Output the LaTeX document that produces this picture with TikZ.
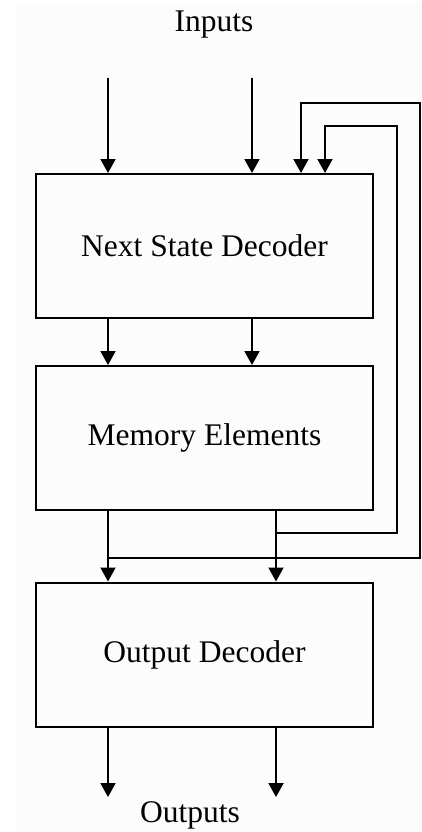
\documentclass[tikz,border=0pt]{standalone}
\usepackage{fontspec}
\setmainfont{Liberation Serif}
\usetikzlibrary{arrows.meta}
\definecolor{bgtint}{RGB}{251,252,251}
\tikzset{
  blockbox/.style={draw=black, line width=2pt, minimum width=337pt, minimum height=144pt, inner sep=0pt, font=\fontsize{31.5}{36}\selectfont},
  wire/.style={draw=black, line width=2pt},
  arr/.style={wire, -{Triangle[width=15pt,length=14pt]}},
  lbl/.style={font=\fontsize{31.5}{36}\selectfont, inner sep=0pt}
}
\begin{document}
\begin{tikzpicture}[x=1pt,y=-1pt]
\useasboundingbox (0,0) rectangle (421,832);
\fill[bgtint] (17,3) rectangle (421,832);
\node[blockbox] (nsd) at (204.5,246) {Next State Decoder};
\node[blockbox] (mem) at (204.5,438) {Memory Elements};
\node[blockbox] (od) at (204.5,654.5) {Output Decoder};
\node[lbl] (inp) at (214,25) {Inputs};
\node[lbl] (outp) at (190,815) {Outputs};
% inputs
\coordinate (i1) at (108,78);
\coordinate (i2) at (252,78);
\draw[arr] (i1) -- (i1 |- nsd.north);
\draw[arr] (i2) -- (i2 |- nsd.north);
% decoder to memory
\draw[arr] (i1 |- nsd.south) -- (i1 |- mem.north);
\draw[arr] (i2 |- nsd.south) -- (i2 |- mem.north);
% memory to output decoder
\coordinate (m1) at (108,510);
\coordinate (m2) at (276,510);
\draw[arr] (m1 |- mem.south) -- (m1 |- od.north);
\draw[arr] (m2 |- mem.south) -- (m2 |- od.north);
% feedback outer
\coordinate (fo1) at (108,558);
\coordinate (fo2) at (420,558);
\coordinate (fo3) at (420,103);
\coordinate (fo4) at (301,103);
\draw[arr] (fo1) -- (fo2) -- (fo3) -- (fo4) -- (fo4 |- nsd.north);
% feedback inner
\coordinate (fi1) at (276,533);
\coordinate (fi2) at (397,533);
\coordinate (fi3) at (397,126);
\coordinate (fi4) at (325,126);
\draw[arr] (fi1) -- (fi2) -- (fi3) -- (fi4) -- (fi4 |- nsd.north);
% outputs
\coordinate (o1) at (108,797);
\coordinate (o2) at (276,797);
\draw[arr] (o1 |- od.south) -- (o1);
\draw[arr] (o2 |- od.south) -- (o2);
\end{tikzpicture}
\end{document}
